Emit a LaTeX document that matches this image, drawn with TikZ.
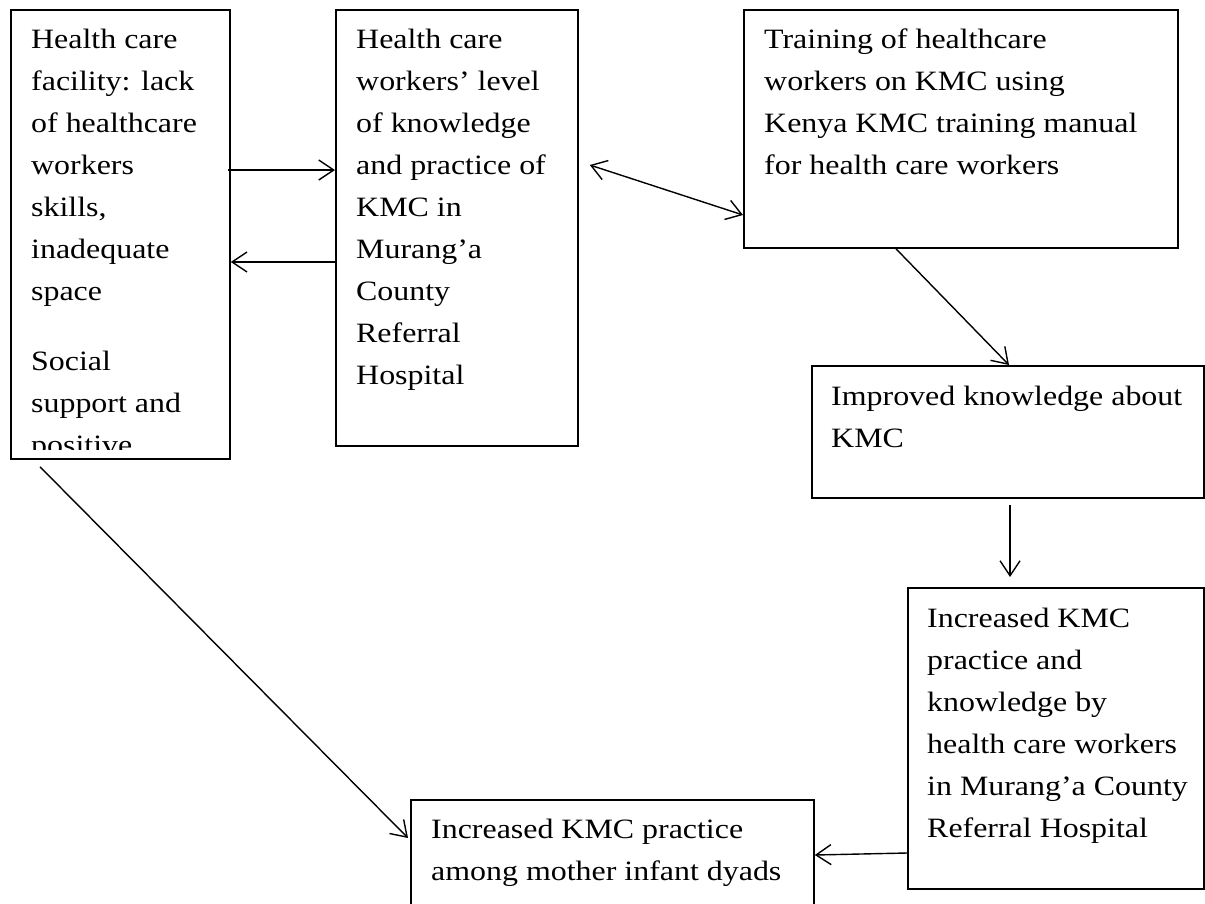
\documentclass[tikz,border=0pt]{standalone}
\usepackage{fontspec}
\setmainfont{Liberation Serif}[FakeStretch=1.14]
\usetikzlibrary{positioning}
\usetikzlibrary{arrows.meta}

\tikzset{
  box/.style={draw, line width=1.8pt, anchor=north west, inner sep=0pt},
  txt/.style={anchor=north west, inner sep=0pt, align=left,
    font=\fontsize{28}{42}\selectfont},
  arr/.style={line width=1.4pt, -{Straight Barb[length=15pt,width=20pt]}},
  dblarr/.style={line width=1.4pt, {Straight Barb[length=15pt,width=20pt]}-{Straight Barb[length=15pt,width=20pt]}},
}
\newcommand{\fstrut}{\rule{0pt}{24pt}}

\begin{document}
\begin{tikzpicture}[x=1pt, y=-1pt]
    \path[use as bounding box] (0,0) rectangle (1205,903);
    \clip (0,0) rectangle (1205,903);

    % boxes
    \node[box, minimum width=219pt, minimum height=449pt] (facility) at (10,9) {};
    \node[box, minimum width=242pt, minimum height=436pt] (level) at (335,9) {};
    \node[box, minimum width=434pt, minimum height=238pt] (training) at (743,9) {};
    \node[box, minimum width=392pt, minimum height=132pt] (improved) at (811,365) {};
    \node[box, minimum width=296pt, minimum height=301pt] (hcwpractice) at (907,587) {};
    \node[box, minimum width=403pt, minimum height=130pt] (dyads) at (410,799) {};

    % texts
    \begin{scope}
        \clip (facility.north west) rectangle ([yshift=10pt]facility.south east);
        \node[txt] (facilitytxt) at (31,24) {\fstrut Health care\\facility: lack\\of healthcare\\workers\\skills,\\inadequate\\space\\[28pt]Social\\support and\\positive};
    \end{scope}
    \node[txt] (leveltxt) at (356,24) {\fstrut Health care\\workers’ level\\of knowledge\\and practice of\\KMC in\\Murang’a\\County\\Referral\\Hospital};
    \node[txt] (trainingtxt) at (764,24) {\fstrut Training of healthcare\\workers on KMC using\\Kenya KMC training manual\\for health care workers};
    \node[txt] (improvedtxt) at (831,381) {\fstrut Improved knowledge about\\KMC};
    \node[txt] (hcwpracticetxt) at (927,603) {\fstrut Increased KMC\\practice and\\knowledge by\\health care workers\\in Murang’a County\\Referral Hospital};
    \node[txt] (dyadstxt) at (431,814) {\fstrut Increased KMC practice\\among mother infant dyads};

    % connectors
    \draw[arr] ([xshift=-3pt,yshift=-161pt]facility.north east) -- ([yshift=-161pt]level.north west);
    \draw[arr] ([yshift=-253pt]level.north west) -- ([yshift=-253pt]facility.north east);
    \draw[dblarr] ([xshift=11pt,yshift=-156pt]level.north east) -- ([yshift=-206pt]training.north west);
    \draw[arr] ([xshift=153pt]training.south west) -- ([xshift=198pt]improved.north west);
    \draw[arr] ([xshift=199pt,yshift=-6pt]improved.south west) -- ([xshift=103pt,yshift=10pt]hcwpractice.north west);
    \draw[arr] ([yshift=-266pt]hcwpractice.north west) -- ([yshift=-56pt]dyads.north east);
    \draw[arr] ([xshift=30pt,yshift=-7pt]facility.south west) -- ([xshift=-2pt,yshift=-39pt]dyads.north west);
\end{tikzpicture}
\end{document}
